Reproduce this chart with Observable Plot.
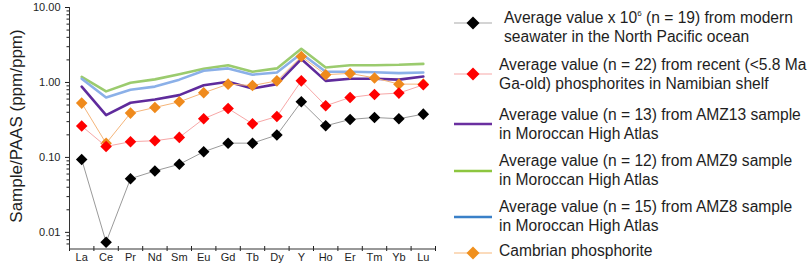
<!DOCTYPE html>
<html>
<head>
<meta charset="utf-8">
<script src="https://cdn.jsdelivr.net/npm/d3@7"></script>
<script src="https://cdn.jsdelivr.net/npm/@observablehq/plot@0.6"></script>
<style>
  html, body { margin: 0; padding: 0; background: #fff; }
  #wrap { position: relative; width: 809px; height: 267px; overflow: hidden; font-family: "Liberation Sans", Arial, Helvetica, sans-serif; }
  #chart { position: absolute; left: 0; top: 0; }
  #ylab { position: absolute; left: 17px; top: 126px; transform: translate(-50%, -50%) rotate(-90deg); font-size: 17px; white-space: nowrap; color: #1e1e1e; }
  .item { position: absolute; left: 454px; white-space: nowrap; font-size: 15.6px; line-height: 18.5px; color: #1e1e1e; }
  .item svg { position: absolute; left: 0; }
  .item .txt { position: absolute; left: 45px; top: 0; }
  sup { font-size: 8px; vertical-align: 7px; line-height: 0; }
</style>
</head>
<body>
<div id="wrap"><div id="chart"></div><div id="ylab"></div><div id="legend"></div></div>
<script>
// ---- data ----
const elements = ["La","Ce","Pr","Nd","Sm","Eu","Gd","Tb","Dy","Y","Ho","Er","Tm","Yb","Lu"];
const seawater = [0.094, 0.0074, 0.052, 0.066, 0.081, 0.119, 0.155, 0.155, 0.199, 0.552, 0.264, 0.321, 0.341, 0.328, 0.378];
const namibia  = [0.262, 0.140, 0.162, 0.167, 0.185, 0.328, 0.45, 0.281, 0.352, 1.05, 0.489, 0.631, 0.692, 0.721, 0.93];
const amz13    = [0.88, 0.367, 0.536, 0.593, 0.678, 0.92, 1.02, 0.83, 0.95, 2.05, 1.05, 1.12, 1.12, 1.09, 1.20];
const amz9     = [1.19, 0.76, 0.99, 1.10, 1.29, 1.52, 1.70, 1.39, 1.54, 2.81, 1.58, 1.70, 1.70, 1.72, 1.77];
const amz8     = [1.12, 0.63, 0.80, 0.88, 1.09, 1.43, 1.54, 1.27, 1.36, 2.44, 1.39, 1.39, 1.37, 1.33, 1.36];
const cambrian = [0.53, 0.154, 0.39, 0.464, 0.552, 0.728, 0.95, 0.91, 1.05, 2.22, 1.27, 1.32, 1.15, 0.95, 0.95];
const yMajorTicks = [0.01, 0.1, 1, 10];
const yMinorTicks = [0.007, 0.008, 0.009,
  0.02, 0.03, 0.04, 0.05, 0.06, 0.07, 0.08, 0.09,
  0.2, 0.3, 0.4, 0.5, 0.6, 0.7, 0.8, 0.9,
  2, 3, 4, 5, 6, 7, 8, 9];
const yLabel = "Sample/PAAS (ppm/ppm)";
const legendLabels = [
  "Average value x 10<sup>6</sup> (n = 19) from modern<br>seawater in the North Pacific ocean",
  "Average value (n = 22) from recent (&lt;5.8 Ma<br>Ga-old) phosphorites in Namibian shelf",
  "Average value (n = 13) from AMZ13 sample<br>in Moroccan High Atlas",
  "Average value (n = 12) from AMZ9 sample<br>in Moroccan High Atlas",
  "Average value (n = 15) from AMZ8 sample<br>in Moroccan High Atlas",
  "Cambrian phosphorite"
];

const toRows = (vals) => vals.map((v, i) => ({i, v}));
const idx = d3.range(elements.length);
const boundaries = d3.range(elements.length + 1).map(i => i - 0.5);

const thick = (vals, color) => Plot.line(toRows(vals), {x: "i", y: "v", stroke: color, strokeWidth: 2.6, strokeLinejoin: "round"});
const thin = (vals, color) => Plot.line(toRows(vals), {x: "i", y: "v", stroke: color, strokeWidth: 1});
const dots = (vals, color) => Plot.dot(toRows(vals), {x: "i", y: "v", symbol: "diamond2", r: 5.2, fill: color, stroke: "none"});

const chart = Plot.plot({
  width: 450, height: 267,
  marginLeft: 69, marginRight: 15, marginTop: 7, marginBottom: 18.5,
  x: {domain: [-0.5, 14.5], axis: null},
  y: {type: "log", domain: [0.006, 10], axis: null},
  style: {fontFamily: "Liberation Sans, Arial, sans-serif", fontSize: "11px", color: "#1e1e1e", background: "transparent"},
  marks: [
    Plot.axisY({ticks: yMajorTicks, tickFormat: d3.format(".2f"), tickSize: 4, tickPadding: 5, label: null, fontSize: 11}),
    Plot.axisY({ticks: yMinorTicks, tickFormat: () => "", tickSize: 2.5, label: null}),
    Plot.axisX({ticks: idx, tickFormat: i => elements[i], tickSize: 0, tickPadding: 4, label: null, fontSize: 11}),
    Plot.axisX({ticks: boundaries, tickFormat: () => "", tickSize: 5, dy: -2.5, label: null}),
    Plot.ruleX([-0.5], {stroke: "#333"}),
    Plot.ruleY([0.006], {stroke: "#333"}),
    thick(amz9, "#9bcb6e"),
    thick(amz8, "#8bb0e8"),
    thick(amz13, "#5f2b9c"),
    thin(seawater, "#9a9a9a"),
    dots(seawater, "#000"),
    thin(cambrian, "#f5b57a"),
    dots(cambrian, "#ef8a1c"),
    thin(namibia, "#f7a7a7"),
    dots(namibia, "#ff0000")
  ]
});
document.getElementById("chart").appendChild(chart);
document.getElementById("ylab").textContent = yLabel;

// ---- legend ----
const legendStyle = [
  {line: "#aaaaaa", dot: "#000", top: 9, sw: 14, tx: 50},
  {line: "#f7a7a7", dot: "#ff0000", top: 56, sw: 18},
  {line: "#6a2fa0", dot: null, top: 106, sw: 18, w: 2.4},
  {line: "#8dc63f", dot: null, top: 152, sw: 19, w: 2.4},
  {line: "#3a80c8", dot: null, top: 198, sw: 19, w: 2.4},
  {line: "#f7b77a", dot: "#f0901e", top: 242, sw: 11}
];
const legend = document.getElementById("legend");
legendLabels.forEach((lab, k) => {
  const s = legendStyle[k];
  const div = document.createElement("div");
  div.className = "item";
  div.style.top = s.top + "px";
  const cy = s.sw;
  let svg = `<svg width="40" height="${cy * 2}" style="top:0"><line x1="0" x2="38" y1="${cy}" y2="${cy}" stroke="${s.line}" stroke-width="${s.w || 1.2}"/>`;
  if (s.dot) svg += `<path d="M19,${cy - 6.5}L25.5,${cy}L19,${cy + 6.5}L12.5,${cy}Z" fill="${s.dot}"/>`;
  svg += `</svg>`;
  div.innerHTML = svg + `<div class="txt" style="left:${s.tx || 45}px">${lab}</div>`;
  legend.appendChild(div);
});
</script>
</body>
</html>
